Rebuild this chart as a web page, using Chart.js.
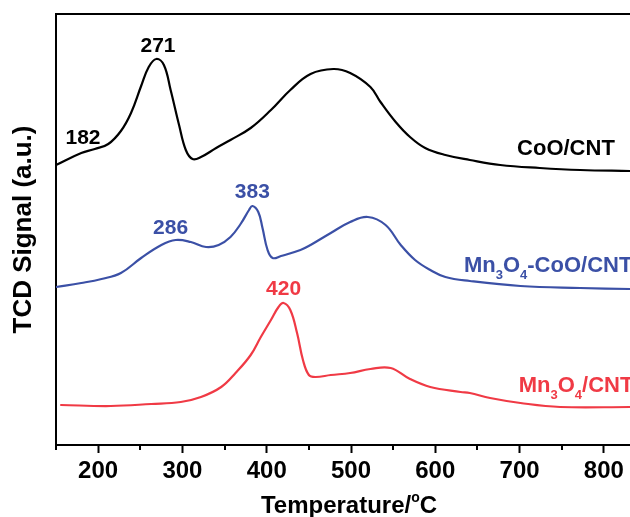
<!DOCTYPE html>
<html>
<head>
<meta charset="utf-8">
<script src="https://cdn.jsdelivr.net/npm/chart.js@4.4.1/dist/chart.umd.min.js"></script>
<style>
  html, body { margin: 0; padding: 0; background: #fff; }
  #box { width: 630px; height: 517px; }
</style>
</head>
<body>
<div id="box"><canvas id="tpr"></canvas></div>
<script>
// TPR curves (signal in arbitrary units)
const cooTemp = [150, 180, 196, 212, 227, 239, 251, 260, 269, 278, 286, 296, 304, 312, 322, 340, 357, 381, 405, 428, 452, 479, 499, 523, 535, 553, 570, 588, 612, 641, 677, 724, 772, 831];
const cooSignal = [280, 292, 296, 301, 314, 332, 359, 378, 386, 380, 355, 320, 295, 286, 288, 297, 305, 317, 335, 355, 371, 376, 372, 358, 343, 323, 308, 297, 290, 285, 280, 277, 275, 274];

const mixTemp = [150, 180, 204, 227, 251, 275, 292, 310, 328, 343, 357, 369, 379, 383, 390, 395, 401, 407, 417, 440, 452, 476, 499, 520, 541, 559, 576, 594, 612, 641, 701, 772, 831];
const mixSignal = [158, 162, 166, 172, 187, 200, 205, 203, 198, 200, 208, 221, 235, 239, 233, 217, 195, 187, 189, 195, 200, 212, 223, 228, 220, 200, 185, 175, 168, 164, 159, 157, 156];

const mnTemp = [156, 215, 263, 298, 322, 346, 363, 381, 393, 405, 414, 420, 428, 436, 443, 450, 458, 476, 499, 523, 547, 570, 594, 630, 641, 665, 701, 748, 831];
const mnSignal = [40, 39, 41, 43, 48, 58, 72, 90, 108, 125, 138, 142, 135, 112, 85, 70, 68, 70, 72, 76, 77, 66, 58, 53, 52, 47, 42, 38, 38];

const tickValues = [150, 200, 250, 300, 350, 400, 450, 500, 550, 600, 650, 700, 750, 800];

// peak temperatures written on the curves
const cooPeaks = [182, 271];
const mixPeaks = [286, 383];
const mnPeaks = [420];

const BLACK = '#000000';
const BLUE = '#3b50a6';
const RED = '#f03a45';
const FONT = '"Liberation Sans", Arial, sans-serif';

function toPoints(xs, ys) {
  return xs.map(function (x, i) { return { x: x, y: ys[i] }; });
}

// linear look-up, only used to place the peak numbers above a curve
function valueAt(xs, ys, t) {
  for (let i = 1; i < xs.length; i++) {
    if (t <= xs[i]) {
      const f = (t - xs[i - 1]) / (xs[i] - xs[i - 1]);
      return ys[i - 1] + f * (ys[i] - ys[i - 1]);
    }
  }
  return ys[ys.length - 1];
}

// text with sub/superscript pieces: [text, shift] where shift 1 = sub, -1 = sup
function drawRich(ctx, parts, x, y, size) {
  let cx = x;
  parts.forEach(function (p) {
    const s = p[1] === 0 ? size : Math.round(size * 0.6);
    ctx.font = 'bold ' + s + 'px ' + FONT;
    const dy = p[1] === 1 ? size * 0.32 : (p[1] === -1 ? -size * 0.45 : 0);
    ctx.fillText(p[0], cx, y + dy);
    cx += ctx.measureText(p[0]).width;
  });
}

const extras = {
  id: 'extras',
  afterDraw(chart) {
    const ctx = chart.ctx;
    const area = chart.chartArea;
    const xs = chart.scales.x;
    const ys = chart.scales.y;
    ctx.save();

    // top frame line
    ctx.strokeStyle = '#000';
    ctx.lineWidth = 2;
    ctx.beginPath();
    ctx.moveTo(area.left - 1, area.top);
    ctx.lineTo(area.right, area.top);
    ctx.stroke();

    // minor ticks (major ones come from the axis)
    tickValues.forEach(function (v) {
      if (v % 100 !== 0) {
        const px = Math.round(xs.getPixelForValue(v));
        ctx.beginPath();
        ctx.moveTo(px, area.bottom);
        ctx.lineTo(px, area.bottom + 5);
        ctx.stroke();
      }
    });

    // peak numbers
    ctx.textAlign = 'center';
    ctx.textBaseline = 'middle';
    ctx.font = 'bold 21px ' + FONT;
    const groups = [[cooPeaks, cooTemp, cooSignal, BLACK], [mixPeaks, mixTemp, mixSignal, BLUE], [mnPeaks, mnTemp, mnSignal, RED]];
    groups.forEach(function (g) {
      ctx.fillStyle = g[3];
      g[0].forEach(function (t) {
        const px = xs.getPixelForValue(t);
        const py = ys.getPixelForValue(valueAt(g[1], g[2], t));
        ctx.fillText(String(t), px, py - 14);
      });
    });

    // curve names
    ctx.textAlign = 'left';
    ctx.textBaseline = 'alphabetic';
    ctx.fillStyle = BLACK;
    drawRich(ctx, [['CoO/CNT', 0]], xs.getPixelForValue(697), ys.getPixelForValue(290), 22);
    ctx.fillStyle = BLUE;
    drawRich(ctx, [['Mn', 0], ['3', 1], ['O', 0], ['4', 1], ['-CoO/CNT', 0]], xs.getPixelForValue(634), ys.getPixelForValue(173), 22);
    ctx.fillStyle = RED;
    drawRich(ctx, [['Mn', 0], ['3', 1], ['O', 0], ['4', 1], ['/CNT', 0]], xs.getPixelForValue(699), ys.getPixelForValue(53), 22);

    // x axis title with the degree sign raised
    ctx.fillStyle = BLACK;
    const parts = [['Temperature/', 0], ['o', -1], ['C', 0]];
    let w = 0;
    parts.forEach(function (p) {
      ctx.font = 'bold ' + (p[1] === 0 ? 24 : 14) + 'px ' + FONT;
      w += ctx.measureText(p[0]).width;
    });
    drawRich(ctx, parts, 349 - w / 2, 513, 24);

    ctx.restore();
  }
};

const ctx = document.getElementById('tpr').getContext('2d');

const grafico = new Chart(ctx, {
  type: 'line',
  data: {
    datasets: [
      { label: 'CoO/CNT', data: toPoints(cooTemp, cooSignal), borderColor: BLACK },
      { label: 'Mn3O4-CoO/CNT', data: toPoints(mixTemp, mixSignal), borderColor: BLUE },
      { label: 'Mn3O4/CNT', data: toPoints(mnTemp, mnSignal), borderColor: RED }
    ]
  },
  options: {
    responsive: true,
    maintainAspectRatio: false,
    animation: false,
    layout: { padding: { top: 14, right: 0, left: 0, bottom: 0 } },
    elements: {
      point: { radius: 0 },
      line: { borderWidth: 2.2, tension: 0.4, fill: false, borderCapStyle: 'round', borderJoinStyle: 'round' }
    },
    plugins: {
      legend: { display: false },
      tooltip: { enabled: false }
    },
    scales: {
      x: {
        type: 'linear',
        min: 150,
        max: 831,
        afterBuildTicks: function (scale) {
          scale.ticks = tickValues.map(function (v) { return { value: v }; });
        },
        afterFit: function (scale) { scale.height = 72; },
        border: { display: true, color: '#000', width: 2 },
        grid: {
          display: true,
          drawOnChartArea: false,
          drawTicks: true,
          tickLength: 8,
          tickWidth: 2,
          tickColor: function (c) { return c.tick && c.tick.value % 100 === 0 ? '#000' : 'rgba(0,0,0,0)'; }
        },
        ticks: {
          color: '#000',
          padding: 4,
          maxRotation: 0,
          autoSkip: false,
          font: { family: FONT, size: 24, weight: 'bold' },
          callback: function (v) { return v % 100 === 0 ? String(v) : ''; }
        }
      },
      y: {
        min: 0,
        max: 431,
        afterFit: function (scale) { scale.width = 56; },
        border: { display: true, color: '#000', width: 2 },
        grid: { display: false, drawTicks: false },
        ticks: { display: false },
        title: {
          display: true,
          text: 'TCD Signal (a.u.)',
          color: '#000',
          padding: { top: 8, bottom: 0 },
          font: { family: FONT, size: 26, weight: 'bold' }
        }
      }
    }
  },
  plugins: [extras]
});
</script>
</body>
</html>
